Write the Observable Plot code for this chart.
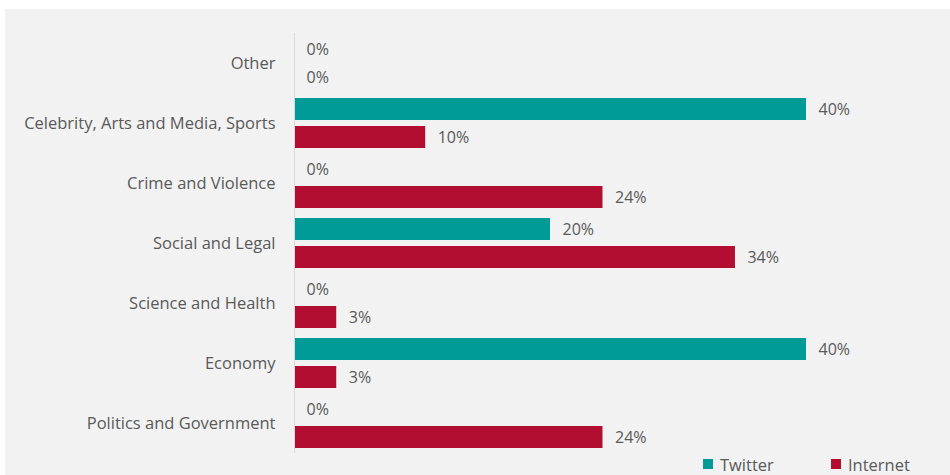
<!DOCTYPE html>
<html>
<head>
<meta charset="utf-8">
<script src="https://cdn.jsdelivr.net/npm/d3@7"></script>
<script src="https://cdn.jsdelivr.net/npm/@observablehq/plot@0.6"></script>
<style>
  html, body { margin: 0; padding: 0; background: #ffffff; }
  #wrap { position: absolute; left: 5px; top: 9px; width: 945px; height: 466px; background: #f2f2f2; font-family: "Open Sans", sans-serif; color: #595959; }
  #wrap svg { display: block; }
  #chart svg g[aria-label="fy-axis tick label"] text { font-size: 16.5px; }
  #legend { position: relative; height: 20px; font-size: 16.5px; }
  .item { position: absolute; top: 0; display: flex; align-items: center; height: 18px; }
  .sw { width: 10px; height: 10px; margin-right: 7px; }
</style>
</head>
<body>
<div id="wrap"><div id="chart"></div><div id="legend"></div></div>
<script>
const categories = ["Other", "Celebrity, Arts and Media, Sports", "Crime and Violence", "Social and Legal", "Science and Health", "Economy", "Politics and Government"];
const series = ["Twitter", "Internet"];
const twitterValues = [0, 40, 0, 20, 0, 40, 0];
const internetValues = [0, 10.25, 24.1, 34.45, 3.3, 3.3, 24.1];
const colors = ["#009b97", "#b10e31"];

const data = [];
categories.forEach((c, i) => {
  data.push({category: c, series: "Twitter", value: twitterValues[i]});
  data.push({category: c, series: "Internet", value: internetValues[i]});
});

const chart = Plot.plot({
  width: 945,
  height: 446,
  marginLeft: 289,
  marginRight: 144,
  marginTop: 22,
  marginBottom: 0,
  style: {background: "#f2f2f2", fontFamily: "Open Sans, sans-serif", fontSize: "16px", color: "#595959"},
  x: {domain: [0, 40], axis: null},
  y: {domain: series, axis: null, paddingInner: 0.21, paddingOuter: 0.14},
  fy: {domain: categories, padding: 0, label: null, tickSize: 0, tickPadding: 19},
  color: {domain: series, range: colors},
  marks: [
    Plot.barX(data, {x: "value", y: "series", fy: "category", fill: "series"}),
    Plot.text(data, {x: "value", y: "series", fy: "category", text: d => Math.round(d.value) + "%", textAnchor: "start", dx: 12, fill: "#595959"}),
    Plot.ruleX([0], {stroke: "#d9d9d9"})
  ]
});
document.getElementById("chart").appendChild(chart);

const legend = document.getElementById("legend");
const lefts = [698, 826];
series.forEach((s, i) => {
  const it = document.createElement("div");
  it.className = "item";
  it.style.left = lefts[i] + "px";
  const sw = document.createElement("span");
  sw.className = "sw";
  sw.style.background = colors[i];
  const t = document.createElement("span");
  t.textContent = s;
  it.appendChild(sw);
  it.appendChild(t);
  legend.appendChild(it);
});
</script>
</body>
</html>
